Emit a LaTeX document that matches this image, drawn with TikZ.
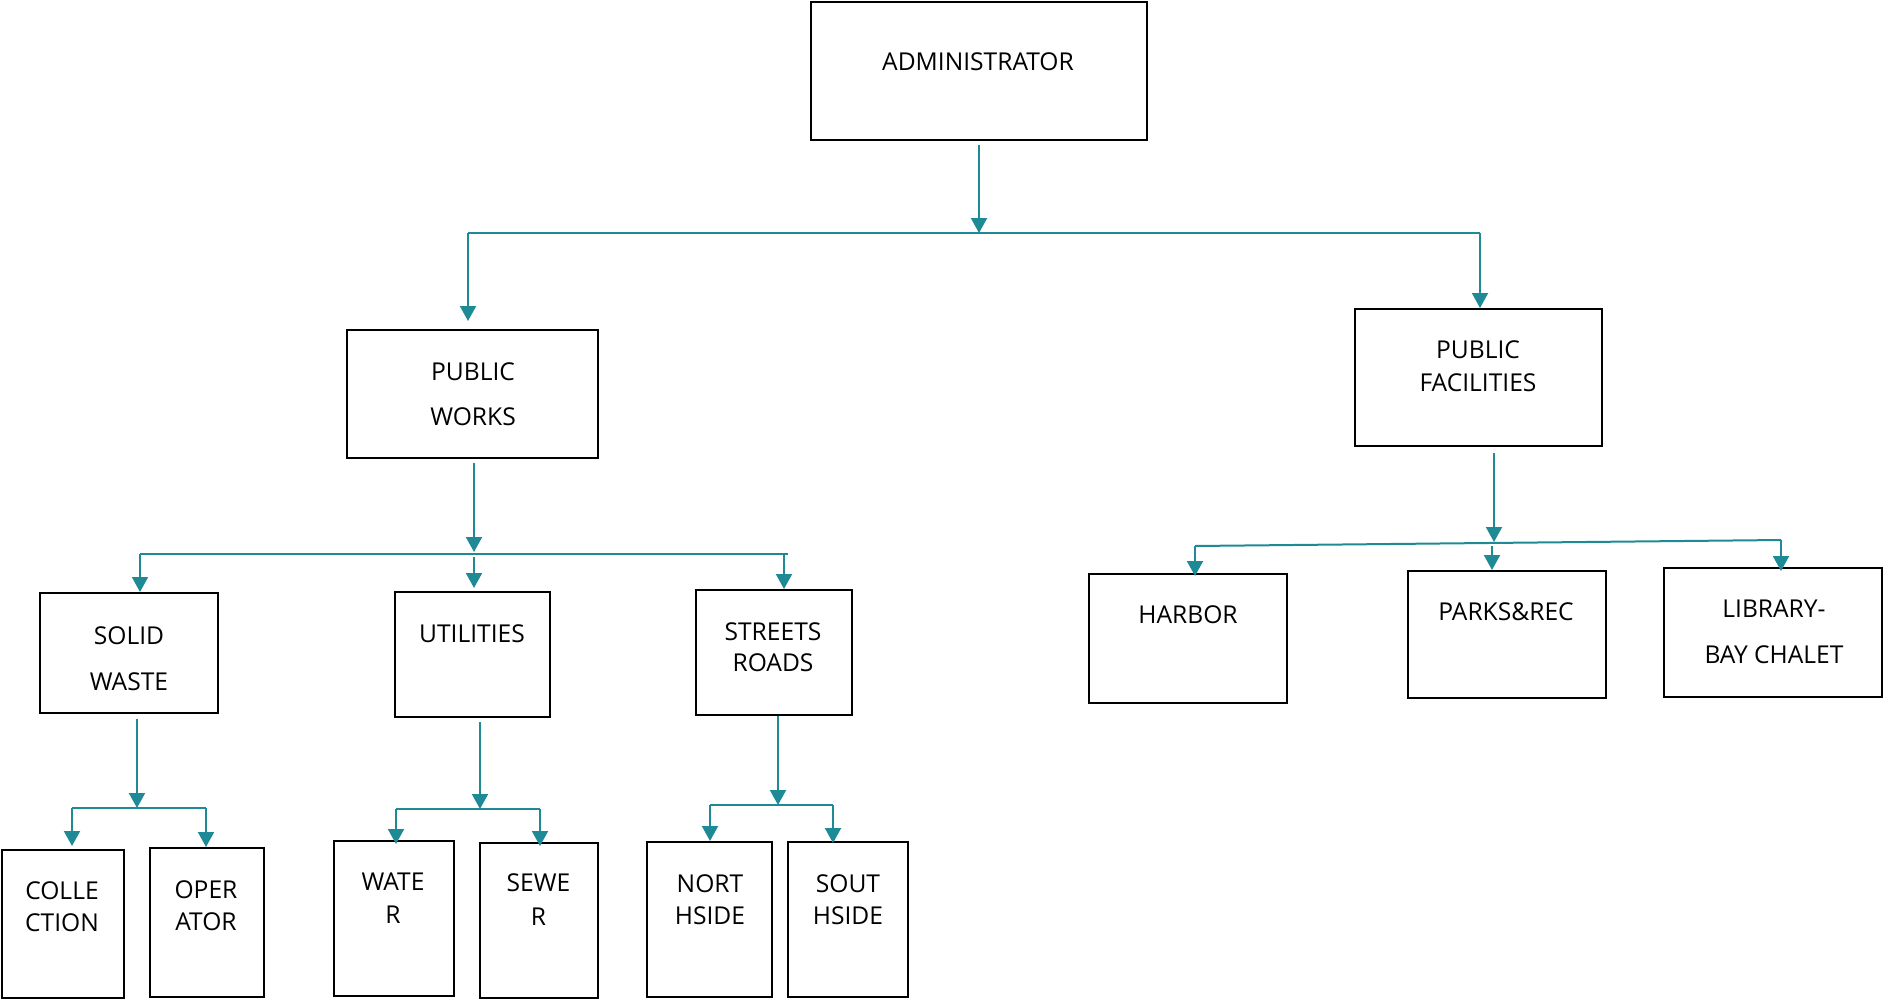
\documentclass[tikz,border=0pt]{standalone}
\usepackage{fontspec}
\setmainfont{Open Sans}
\usetikzlibrary{arrows.meta,calc}
\definecolor{tealline}{RGB}{30,138,150}
\begin{document}
\begin{tikzpicture}[x=1pt,y=-1pt,
  box/.style={draw=black,line width=2pt,inner sep=0pt,rectangle},
  lbl/.style={anchor=base,inner sep=0pt,font=\fontsize{24.6}{28}\selectfont},
  conn/.style={draw=tealline,line width=2pt},
  arr/.style={conn,-{Triangle[width=16pt,length=15pt]}}]
\useasboundingbox (0,0) rectangle (1883,999);

% boxes
\node[box,minimum width=336pt,minimum height=138pt] (adm) at (979,71) {};
\node[box,minimum width=251pt,minimum height=128pt] (pw) at (472.5,394) {};
\node[box,minimum width=247pt,minimum height=137pt] (pf) at (1478.5,377.5) {};
\node[box,minimum width=178pt,minimum height=120pt] (sw) at (129,653) {};
\node[box,minimum width=155pt,minimum height=125pt] (ut) at (472.5,654.5) {};
\node[box,minimum width=156pt,minimum height=125pt] (st) at (774,652.5) {};
\node[box,minimum width=122pt,minimum height=148pt] (col) at (63,924) {};
\node[box,minimum width=114pt,minimum height=149pt] (op) at (207,922.5) {};
\node[box,minimum width=120pt,minimum height=155pt] (wa) at (394,918.5) {};
\node[box,minimum width=118pt,minimum height=155pt] (se) at (539,920.5) {};
\node[box,minimum width=125pt,minimum height=155pt] (no) at (709.5,919.5) {};
\node[box,minimum width=120pt,minimum height=155pt] (so) at (848,919.5) {};
\node[box,minimum width=198pt,minimum height=129pt] (ha) at (1188,638.5) {};
\node[box,minimum width=198pt,minimum height=127pt] (pa) at (1507,634.5) {};
\node[box,minimum width=218pt,minimum height=129pt] (li) at (1773,632.5) {};

% texts
\node[lbl] (tadm) at (978,70.5) {ADMINISTRATOR};
\node[lbl] (tpw1) at (473,380.5) {PUBLIC};
\node[lbl] (tpw2) at (473,425.5) {WORKS};
\node[lbl] (tpf1) at (1478,358.5) {PUBLIC};
\node[lbl] (tpf2) at (1478,391.5) {FACILITIES};
\node[lbl] (tsw1) at (129,644.5) {SOLID};
\node[lbl] (tsw2) at (129,690.5) {WASTE};
\node[lbl] (tut) at (472,642.5) {UTILITIES};
\node[lbl] (tst1) at (773,640.5) {STREETS};
\node[lbl] (tst2) at (773,671.5) {ROADS};
\node[lbl] (tcol1) at (62,899.5) {COLLE};
\node[lbl] (tcol2) at (62,931.5) {CTION};
\node[lbl] (top1) at (206,898.5) {OPER};
\node[lbl] (top2) at (206,930.5) {ATOR};
\node[lbl] (twa1) at (393,890.5) {WATE};
\node[lbl] (twa2) at (393,923.5) {R};
\node[lbl] (tse1) at (538.5,891.5) {SEWE};
\node[lbl] (tse2) at (538.5,925.5) {R};
\node[lbl] (tno1) at (710,892.5) {NORT};
\node[lbl] (tno2) at (710,924.5) {HSIDE};
\node[lbl] (tso1) at (848,892.5) {SOUT};
\node[lbl] (tso2) at (848,924.5) {HSIDE};
\node[lbl] (tha) at (1188,623.5) {HARBOR};
\node[lbl] (tpa) at (1506,620.5) {PARKS\&REC};
\node[lbl] (tli1) at (1774,617.5) {LIBRARY-};
\node[lbl] (tli2) at (1774,663.5) {BAY CHALET};

% bus coordinates
\coordinate (b1L) at (468,233);
\coordinate (b1R) at (1480,233);
\coordinate (b2L) at (140,554);
\coordinate (b2R) at (788,554);
\coordinate (b2M) at (474,554);
\coordinate (b2S) at (784,554);
\coordinate (b3L) at (72,808);
\coordinate (b3R) at (206,808);
\coordinate (b3M) at (137,808);
\coordinate (b4L) at (396,809);
\coordinate (b4R) at (540,809);
\coordinate (b4M) at (480,809);
\coordinate (b5L) at (710,805);
\coordinate (b5R) at (833,805);
\coordinate (b5M) at (778,805);
\coordinate (b6L) at (1195,546);
\coordinate (b6R) at (1781,540);
\coordinate (b6M) at (1494,542);
\coordinate (b6P) at (1492,546);

% level 1
\draw[conn] (b1L) -- (b1R);
\draw[arr] ($(adm.south)+(0,4)$) -- (adm.south |- b1L);
\draw[arr] (b1L) -- ($(b1L |- pw.north)+(0,-8)$);
\draw[arr] (b1R) -- (b1R |- pf.north);

% public works
\draw[conn] (b2L) -- (b2R);
\draw[arr] ($(b2M |- pw.south)+(0,4)$) -- ($(b2M)+(0,-2)$);
\draw[arr] (b2L) -- (b2L |- sw.north);
\draw[arr] ($(b2M)+(0,3)$) -- ($(b2M |- ut.north)+(0,-3)$);
\draw[arr] (b2S) -- (b2S |- st.north);

% solid waste
\draw[conn] (b3L) -- (b3R);
\draw[arr] ($(b3M |- sw.south)+(0,5)$) -- (b3M);
\draw[arr] (b3L) -- ($(b3L |- col.north)+(0,-3)$);
\draw[arr] (b3R) -- (b3R |- op.north);

% utilities
\draw[conn] (b4L) -- (b4R);
\draw[arr] ($(b4M |- ut.south)+(0,4)$) -- (b4M);
\draw[arr] (b4L) -- ($(b4L |- wa.north)+(0,4)$);
\draw[arr] (b4R) -- ($(b4R |- se.north)+(0,4)$);

% streets
\draw[conn] (b5L) -- (b5R);
\draw[arr] (st.south -| b5M) -- (b5M);
\draw[arr] (b5L) -- (b5L |- no.north);
\draw[arr] (b5R) -- ($(b5R |- so.north)+(0,2)$);

% public facilities
\draw[conn] (b6L) -- (b6R);
\draw[arr] ($(b6M |- pf.south)+(0,6)$) -- (b6M);
\draw[arr] (b6L) -- ($(b6L |- ha.north)+(0,3)$);
\draw[arr] (b6P) -- (b6P |- pa.north);
\draw[arr] (b6R) -- ($(b6R |- li.north)+(0,4)$);
\end{tikzpicture}
\end{document}
